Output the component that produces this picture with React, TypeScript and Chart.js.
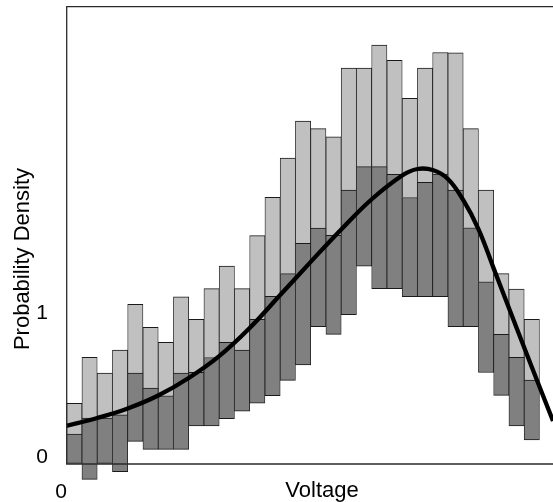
import React, { useEffect, useRef } from "react";
import { Chart, registerables } from "chart.js";

Chart.register(...registerables);

// Histogram bins (bin index units; each bin spans [c-0.5, c+0.5])
const binCenters = [
  0.5, 1.5, 2.5, 3.5, 4.5, 5.5, 6.5, 7.5, 8.5, 9.5, 10.5, 11.5, 12.5, 13.5, 14.5, 15.5,
  16.5, 17.5, 18.5, 19.5, 20.5, 21.5, 22.5, 23.5, 24.5, 25.5, 26.5, 27.5, 28.5, 29.5, 30.5,
];
// Top of the light-gray bars
const lightTop = [
  0.373, 0.692, 0.583, 0.743, 1.06, 0.901, 0.797, 1.113, 0.956, 1.169, 1.326, 1.169, 1.537,
  1.803, 2.076, 2.333, 2.28, 2.224, 2.701, 2.701, 2.861, 2.755, 2.491, 2.701, 2.809, 2.807,
  2.28, 1.854, 1.273, 1.167, 0.956,
];
// Boundary between light-gray and dark-gray bars
const boundary = [
  0.16, 0.271, 0.271, 0.292, 0.583, 0.479, 0.425, 0.583, 0.588, 0.691, 0.796, 0.743, 0.956,
  1.116, 1.274, 1.484, 1.589, 1.54, 1.854, 2.016, 2.016, 1.963, 1.802, 1.908, 1.965, 1.854,
  1.592, 1.217, 0.852, 0.692, 0.535,
];
// Bottom of the dark-gray bars
const darkBottom = [
  -0.044, -0.155, -0.044, -0.102, 0.109, 0.053, 0.053, 0.053, 0.215, 0.215, 0.266, 0.319,
  0.373, 0.426, 0.532, 0.639, 0.905, 0.852, 0.988, 1.326, 1.169, 1.169, 1.113, 1.113, 1.113,
  0.905, 0.905, 0.587, 0.428, 0.215, 0.118,
];
// Fitted density curve
const curveX = [
  -0.046, 2, 4, 6, 8, 10, 12, 14, 16, 18, 20, 22, 23, 24, 25, 26, 27, 28, 29, 30, 31, 31.89,
];
const curveY = [
  0.215, 0.271, 0.337, 0.427, 0.549, 0.701, 0.896, 1.125, 1.355, 1.58, 1.79, 1.955, 2.0,
  1.993, 1.931, 1.785, 1.583, 1.31, 1.035, 0.76, 0.49, 0.25,
];
const yTicks = [0, 1];
const xTickLabel = "0";
const xTitle = "Voltage";
const yTitle = "Probability Density";

const X_MIN = -0.046;
const X_MAX = 31.89;
const Y_MIN = -0.0486;
const Y_MAX = 3.132;
const FONT = "'Liberation Sans', Arial, Helvetica, sans-serif";

const framePlugin = {
  id: "frameAndTitles",
  afterDatasetsDraw(chart: any) {
    const { ctx, chartArea } = chart;
    const { left, top, right, bottom } = chartArea;
    ctx.save();
    ctx.strokeStyle = "#2a2a2a";
    ctx.lineWidth = 1.3;
    ctx.beginPath();
    ctx.moveTo(right + 2, top + 0.7);
    ctx.lineTo(left + 0.7, top + 0.7);
    ctx.lineTo(left + 0.7, bottom);
    ctx.lineTo(right + 2, bottom);
    ctx.stroke();
    ctx.restore();
  },
  afterDraw(chart: any) {
    const { ctx } = chart;
    ctx.save();
    ctx.fillStyle = "#000";
    ctx.font = `22px ${FONT}`;
    ctx.textAlign = "center";
    ctx.textBaseline = "alphabetic";
    ctx.fillText(xTitle, 322, 497);
    ctx.translate(29, 259);
    ctx.rotate(-Math.PI / 2);
    ctx.fillText(yTitle, 0, 0);
    ctx.restore();
  },
};

export default function App() {
  const ref = useRef<HTMLCanvasElement | null>(null);

  useEffect(() => {
    document.body.style.margin = "0";
    document.body.style.overflow = "hidden";
    const canvas = ref.current;
    if (!canvas) return;

    const lightData = binCenters.map((c, i) => ({ x: c, y: [boundary[i], lightTop[i]] }));
    const darkData = binCenters.map((c, i) => ({ x: c, y: [darkBottom[i], boundary[i]] }));
    const curveData = curveX.map((x, i) => ({ x, y: curveY[i] }));

    const chart = new Chart(canvas, {
      type: "bar",
      data: {
        datasets: [
          {
            type: "line",
            data: curveData,
            borderColor: "#000",
            borderWidth: 4.3,
            pointRadius: 0,
            tension: 0.4,
            fill: false,
            order: 0,
          } as any,
          {
            type: "bar",
            data: darkData as any,
            backgroundColor: "#808080",
            borderColor: "#1a1a1a",
            borderWidth: { top: 1, bottom: 1, left: 0.8, right: 0.8 },
            borderSkipped: false,
            grouped: false,
            barPercentage: 1,
            categoryPercentage: 1,
            clip: false,
            order: 1,
          } as any,
          {
            type: "bar",
            data: lightData as any,
            backgroundColor: "#c0c0c0",
            borderColor: "#1a1a1a",
            borderWidth: { top: 1, bottom: 0, left: 0.8, right: 0.8 },
            borderSkipped: false,
            grouped: false,
            barPercentage: 1,
            categoryPercentage: 1,
            clip: false,
            order: 2,
          } as any,
        ],
      },
      options: {
        responsive: false,
        animation: false,
        devicePixelRatio: 1,
        layout: { padding: { top: 6, left: 0, right: 0, bottom: 0 } },
        plugins: { legend: { display: false }, tooltip: { enabled: false } },
        scales: {
          x: {
            type: "linear",
            min: X_MIN,
            max: X_MAX,
            offset: false,
            grid: { display: false },
            border: { display: false },
            afterBuildTicks: (s: any) => {
              s.ticks = [{ value: X_MIN }];
            },
            afterFit: (s: any) => {
              s.height = 38;
              s.paddingLeft = 0;
              s.paddingRight = 0;
            },
            ticks: {
              callback: () => xTickLabel,
              labelOffset: -5,
              padding: 8,
              maxRotation: 0,
              autoSkip: false,
              color: "#000",
              font: { size: 21, family: FONT },
            },
          },
          y: {
            type: "linear",
            min: Y_MIN,
            max: Y_MAX,
            grid: { display: false },
            border: { display: false },
            afterBuildTicks: (s: any) => {
              s.ticks = yTicks.map((v) => ({ value: v }));
            },
            afterFit: (s: any) => {
              s.width = 66;
              s.paddingTop = 0;
              s.paddingBottom = 0;
            },
            ticks: {
              callback: (v: any) => String(v),
              padding: 10,
              color: "#000",
              font: { size: 21, family: FONT },
            },
          },
        },
      } as any,
      plugins: [framePlugin],
    });

    return () => chart.destroy();
  }, []);

  return (
    <div style={{ width: 553, height: 502, position: "relative", overflow: "hidden" }}>
      <canvas ref={ref} width={553} height={502} style={{ display: "block" }} />
    </div>
  );
}
